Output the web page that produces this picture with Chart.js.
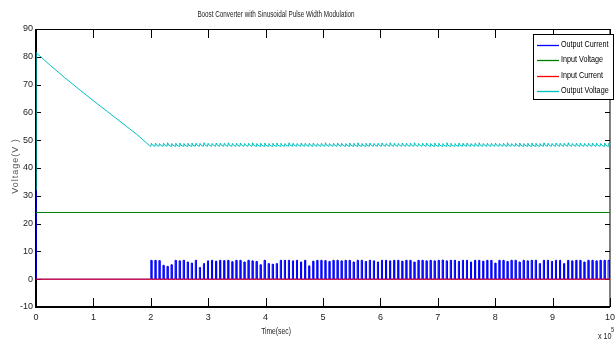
<!DOCTYPE html>
<html>
<head>
<meta charset="utf-8">
<script src="https://cdn.jsdelivr.net/npm/chart.js@4/dist/chart.umd.min.js"></script>
<style>
  html, body { margin: 0; padding: 0; background: #fff; overflow: hidden; width: 615px; height: 341px; }
  #wrap { position: relative; width: 620px; height: 341px; }
</style>
</head>
<body>
<div id="wrap"><canvas id="chart" width="620" height="341"></canvas></div>
<script>
const TITLE = 'Boost Converter with Sinusoidal Pulse Width Modulation';
const X_LABEL = 'Time(sec)';
const Y_LABEL = 'Voltage(V )';
const X_EXP = '5';

const xTicks = [0, 1, 2, 3, 4, 5, 6, 7, 8, 9, 10];
const yTicks = [-10, 0, 10, 20, 30, 40, 50, 60, 70, 80, 90];

const seriesNames = ['Output Current', 'Input Voltage', 'Input Current', 'Output Voltage'];
const seriesColors = ['#0000ff', '#008000', '#ff0000', '#00bfbf'];

// input side: flat lines
const inTime = [0, 10];
const inVoltage = [24, 24];
const inCurrent = [0, 0];

// output voltage start-up (time, volts)
const vOutTime  = [0, 0.002, 0.25, 0.5, 0.75, 1.0, 1.25, 1.5, 1.75, 1.98];
const vOutValue = [32, 81.5, 76.9, 72.5, 68.3, 64.2, 60.2, 56.2, 52.2, 48];

// output current spike at t = 0
const iOutStartTime  = [0, 0, 0.002];
const iOutStartValue = [0, 32, 0];

// switching pulses after t = 2 (one per switching period)
const pulseStart = 2.0;
const pulsePeriod = 0.0705;
const pulseWidth = 0.018;
const pulseHeight = [
  6.8, 6.8, 6.7, 5.0, 4.6, 5.2, 6.8, 6.6, 6.8, 6.2, 5.8, 6.8, 4.2, 5.6,
  6.6, 6.8, 6.5, 6.8, 6.7, 6.8, 6.3, 6.8, 6.8, 6.2, 6.8, 6.6, 6.4, 5.2,
  6.8, 5.6, 5.4, 5.6, 6.8, 6.8, 6.8, 6.6, 6.8, 6.2, 6.8, 4.8, 6.5, 6.8,
  6.8, 6.7, 6.4, 6.8, 6.8, 6.6, 6.8, 6.8, 6.2, 6.8, 6.8, 6.4, 6.8, 6.6,
  6.2, 6.8, 6.8, 6.6, 6.8, 6.8, 6.5, 6.8, 6.8, 6.2, 6.8, 6.8, 6.6, 6.8,
  6.6, 6.8, 6.9, 6.6, 6.8, 6.8, 6.4, 6.8, 6.8, 6.2, 6.8, 6.8, 6.5, 6.8,
  6.8, 5.8, 6.8, 6.8, 6.4, 6.8, 6.8, 6.2, 6.8, 6.6, 6.8, 6.8, 5.6, 6.8,
  6.8, 6.4, 6.8, 6.8, 5.6, 6.8, 6.6, 6.8, 6.8, 6.2, 6.8, 6.8, 6.6, 6.8, 6.8, 6.8
];
// output voltage ripple: valley and peak per switching period
const rippleLow = 47.8;
const ripplePeak = [
  48.9, 49.0, 48.8, 48.9, 49.1, 48.8, 48.9, 49.0, 48.8, 48.9, 49.0, 48.9, 48.8, 49.1,
  48.9, 48.8, 49.0, 48.9, 48.9, 49.1, 48.8, 48.9, 49.0, 48.8, 48.9, 49.1, 48.8, 48.9,
  49.0, 48.8, 48.9, 49.0, 48.9, 48.8, 49.1, 48.9, 48.8, 49.0, 48.9, 48.9, 49.0, 48.8,
  48.9, 49.1, 48.8, 48.9, 49.0, 48.9, 48.8, 49.0, 48.9, 49.1, 48.8, 48.9, 49.0, 48.8,
  48.9, 49.0, 48.8, 49.1, 48.9, 48.8, 49.0, 48.9, 48.9, 49.1, 48.8, 48.9, 49.0, 48.8,
  49.0, 48.9, 48.8, 49.1, 48.9, 48.8, 49.0, 48.9, 49.0, 48.8, 48.9, 49.1, 48.8, 48.9,
  48.9, 49.0, 48.8, 48.9, 49.1, 48.8, 48.9, 49.0, 48.8, 48.9, 49.0, 48.9, 48.8, 49.1,
  48.9, 48.8, 49.0, 48.9, 48.9, 49.1, 48.8, 48.9, 49.0, 48.8, 48.9, 49.0, 48.9, 48.8, 49.0, 48.9
];

const FONT = "'Liberation Sans', Arial, sans-serif";

// build point lists
const zip = (xs, ys) => xs.map((x, i) => ({ x: x, y: ys[i] }));

const iOutPoints = zip(iOutStartTime, iOutStartValue);
iOutPoints.push({ x: pulseStart - 0.01, y: 0 });
pulseHeight.forEach((h, i) => {
  const t = pulseStart + i * pulsePeriod;
  iOutPoints.push({ x: t, y: 0 }, { x: t, y: h }, { x: t + pulseWidth, y: h }, { x: t + pulseWidth, y: 0 });
});
iOutPoints.push({ x: 10, y: 0 });

const vOutPoints = zip(vOutTime, vOutValue);
ripplePeak.forEach((p, i) => {
  const t = pulseStart + i * pulsePeriod;
  vOutPoints.push({ x: t, y: rippleLow }, { x: t + 0.012, y: p }, { x: t + 0.03, y: rippleLow + 0.4 });
});
vOutPoints.push({ x: 10, y: rippleLow });

// matlab figures use a narrow font; squeeze Arial horizontally
function narrowText(ctx, text, x, y, align, sx) {
  ctx.save();
  ctx.translate(x, y);
  ctx.scale(sx, 1);
  ctx.textAlign = align;
  ctx.fillText(text, 0, 0);
  ctx.restore();
}

// axes box and inward ticks (under the data)
const axesPlugin = {
  id: 'axesBox',
  beforeDatasetsDraw(chart) {
    const ctx = chart.ctx;
    const a = chart.chartArea;
    const xs = chart.scales.x, ys = chart.scales.y;
    ctx.save();
    ctx.strokeStyle = '#000';
    ctx.lineWidth = 1;
    ctx.beginPath();
    xTicks.forEach(v => {
      const px = Math.round(xs.getPixelForValue(v)) + 0.5;
      ctx.moveTo(px, a.bottom); ctx.lineTo(px, a.bottom - 9);
      ctx.moveTo(px, a.top); ctx.lineTo(px, a.top + 9);
    });
    yTicks.forEach(v => {
      const py = Math.round(ys.getPixelForValue(v)) + 0.5;
      ctx.moveTo(a.left, py); ctx.lineTo(a.left + 5, py);
      ctx.moveTo(a.right, py); ctx.lineTo(a.right - 5, py);
    });
    ctx.stroke();
    ctx.beginPath();
    ctx.moveTo(a.left, a.top + 0.5); ctx.lineTo(a.right, a.top + 0.5);
    ctx.lineTo(a.right, a.bottom);
    ctx.stroke();
    ctx.lineWidth = 2;
    ctx.beginPath();
    ctx.moveTo(a.left, a.top); ctx.lineTo(a.left, a.bottom); ctx.lineTo(a.right, a.bottom);
    ctx.stroke();
    ctx.restore();
  }
};

// title, axis labels, legend
const decorPlugin = {
  id: 'decor',
  afterDraw(chart) {
    const ctx = chart.ctx;
    ctx.save();
    ctx.fillStyle = '#222';
    ctx.font = '9px ' + FONT;
    ctx.textBaseline = 'middle';
    narrowText(ctx, TITLE, 276, 15, 'center', 0.7);
    narrowText(ctx, X_LABEL, 276, 332, 'center', 0.75);
    narrowText(ctx, 'x 10', 598, 337, 'left', 0.8);
    ctx.font = '7px ' + FONT;
    narrowText(ctx, X_EXP, 611, 330, 'left', 0.8);

    ctx.save();
    ctx.translate(16, 166);
    ctx.rotate(-Math.PI / 2);
    ctx.font = '9px ' + FONT;
    ctx.fillStyle = '#555';
    ctx.textAlign = 'center';
    ctx.letterSpacing = '1px';
    ctx.fillText(Y_LABEL, 0, 0);
    ctx.restore();

    // legend box
    const lx = 533, ly = 34, lw = 80, lh = 65;
    ctx.fillStyle = '#fff';
    ctx.fillRect(lx, ly, lw, lh);
    ctx.lineWidth = 1;
    ctx.strokeStyle = '#000';
    ctx.strokeRect(lx + 0.5, ly + 0.5, lw, lh);
    ctx.font = '9px ' + FONT;
    ctx.textBaseline = 'middle';
    seriesNames.forEach((name, i) => {
      const y = ly + 10.5 + i * 15.5;
      ctx.strokeStyle = seriesColors[i];
      ctx.lineWidth = 1.3;
      ctx.beginPath();
      ctx.moveTo(537, Math.round(y) + 0.5); ctx.lineTo(559, Math.round(y) + 0.5);
      ctx.stroke();
      ctx.fillStyle = '#000';
      narrowText(ctx, name, 561, y, 'left', 0.8);
    });
    ctx.restore();
  }
};

const lineDs = (i, data, order) => ({
  label: seriesNames[i],
  data: data,
  borderColor: seriesColors[i],
  backgroundColor: seriesColors[i],
  borderWidth: 1,
  pointRadius: 0,
  tension: 0,
  fill: false,
  order: order
});

new Chart(document.getElementById('chart'), {
  type: 'line',
  data: {
    datasets: [
      lineDs(0, iOutPoints, 4),
      lineDs(1, zip(inTime, inVoltage), 3),
      lineDs(2, zip(inTime, inCurrent), 2),
      lineDs(3, vOutPoints, 1)
    ]
  },
  options: {
    responsive: false,
    animation: false,
    events: [],
    layout: { padding: { top: 29, right: 4, left: 0, bottom: 0 } },
    plugins: { legend: { display: false }, tooltip: { enabled: false }, title: { display: false } },
    scales: {
      x: {
        type: 'linear', min: 0, max: 10,
        afterFit: (s) => { s.height = 34; },
        afterBuildTicks: (s) => { s.ticks = xTicks.map(v => ({ value: v })); },
        grid: { display: false, drawTicks: false },
        border: { display: false },
        ticks: { padding: 5, maxRotation: 0, autoSkip: false, color: '#222', font: { family: FONT, size: 9 } }
      },
      y: {
        type: 'linear', min: -10, max: 90,
        afterFit: (s) => { s.width = 36; },
        afterBuildTicks: (s) => { s.ticks = yTicks.map(v => ({ value: v })); },
        grid: { display: false, drawTicks: false },
        border: { display: false },
        ticks: { padding: 3, autoSkip: false, color: '#222', font: { family: FONT, size: 9 } }
      }
    }
  },
  plugins: [axesPlugin, decorPlugin]
});
</script>
</body>
</html>
